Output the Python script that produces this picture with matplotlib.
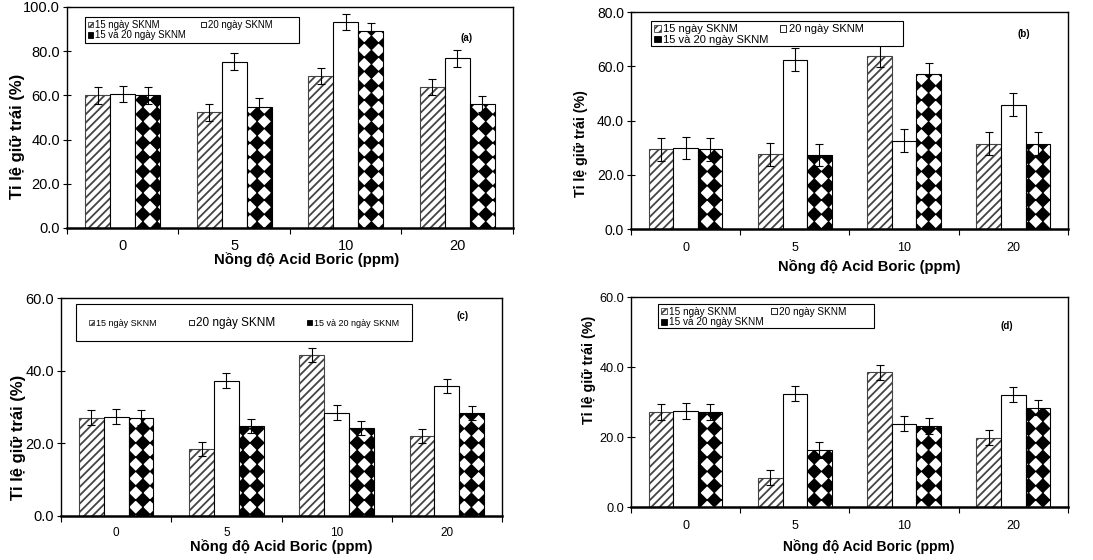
import warnings
import numpy as np
import matplotlib
matplotlib.use('Agg')
import matplotlib.pyplot as plt
from matplotlib import hatch as mhatch
from matplotlib.path import Path
from matplotlib.patches import Patch, Rectangle

warnings.filterwarnings('ignore')

doses = ['0', '5', '10', '20']
series = ['15 ngày SKNM', '20 ngày SKNM', '15 và 20 ngày SKNM']

a_15 = [60.0, 52.3, 68.7, 63.7]
a_20 = [60.5, 75.3, 93.2, 76.7]
a_both = [60.0, 54.9, 89.0, 56.1]
a_err = [3.7, 3.7, 3.7, 3.7]

b_15 = [29.4, 27.6, 63.9, 31.5]
b_20 = [29.9, 62.4, 32.6, 45.9]
b_both = [29.4, 27.3, 57.1, 31.4]
b_err = [4.2, 4.2, 4.2, 4.2]

c_15 = [27.1, 18.4, 44.4, 22.0]
c_20 = [27.4, 37.3, 28.5, 35.8]
c_both = [27.1, 24.8, 24.2, 28.3]
c_err = [2.0, 2.0, 2.0, 2.0]

d_15 = [27.1, 8.4, 38.5, 19.8]
d_20 = [27.4, 32.4, 23.8, 32.1]
d_both = [27.1, 16.3, 23.2, 28.4]
d_err = [2.2, 2.2, 2.2, 2.2]


class DiamondHatch(mhatch.HatchPatternBase):
    # square grid of filled black diamonds ('D')
    def __init__(self, hatch, density):
        self.num_rows = hatch.count('D') * (density + 1)
        self.num_vertices = 5 * (self.num_rows + 1) ** 2 if self.num_rows else 0

    def set_vertices_and_codes(self, vertices, codes):
        step = 1.0 / self.num_rows
        r = 0.45 * step
        diamond = np.array([[0, r], [-r, 0], [0, -r], [r, 0], [0, r]])
        centres = np.arange(self.num_rows + 1) * step
        i = 0
        for cy in centres:
            for cx in centres:
                vertices[i:i + 5] = diamond + [cx, cy]
                codes[i:i + 5] = [Path.MOVETO, Path.LINETO, Path.LINETO,
                                  Path.LINETO, Path.CLOSEPOLY]
                i += 5


mhatch._hatch_types.append(DiamondHatch)

plt.rcParams['font.family'] = ['Liberation Sans', 'DejaVu Sans']
plt.rcParams['hatch.linewidth'] = 1.3

STRIPE = '#444444'


def drawPanel(ax, v15, v20, vboth, err, ymax, tag, tagPos, ytickSize, xtickSize,
              labelSize, xlabPos, ylabPos, ylabSize, legBox, legCols, legSize,
              colGap, xpad):
    x = np.arange(len(doses))
    w = 0.225
    ekw = dict(ecolor='black', elinewidth=0.8, capsize=3, capthick=0.8)
    ax.bar(x - w, v15, w, color='white', edgecolor=STRIPE, hatch='////',
           linewidth=0.8, yerr=err, error_kw=ekw, zorder=2)
    ax.bar(x, v20, w, color='white', edgecolor='black',
           linewidth=0.8, yerr=err, error_kw=ekw, zorder=2)
    ax.bar(x + w, vboth, w, color='white', edgecolor='black', hatch='D',
           linewidth=0.8, yerr=err, error_kw=ekw, zorder=2)

    ax.set_xlim(-0.5, 3.5)
    ax.set_ylim(0, ymax)
    ax.set_yticks(np.arange(0, ymax + 1, 20))
    ax.set_yticklabels(['%.1f' % t for t in np.arange(0, ymax + 1, 20)])
    ax.set_xticks(x)
    ax.set_xticklabels(doses)
    ax.set_xticks(np.arange(-0.5, 4, 1), minor=True)
    ax.tick_params(axis='x', which='major', length=0, labelsize=xtickSize, pad=xpad)
    ax.tick_params(axis='x', which='minor', direction='out', length=4, width=0.8)
    ax.tick_params(axis='y', direction='inout', length=6, width=0.8,
                   labelsize=ytickSize, pad=2)
    for s in ax.spines.values():
        s.set_linewidth(1.0)
    ax.spines['bottom'].set_linewidth(1.8)

    ax.set_xlabel('Nồng độ Acid Boric (ppm)', fontsize=labelSize, fontweight='bold')
    ax.xaxis.label.set_va('center')
    ax.xaxis.set_label_coords(*xlabPos)
    ax.set_ylabel('Tỉ lệ giữ trái (%)', fontsize=ylabSize, fontweight='bold')
    ax.yaxis.label.set_va('center')
    ax.yaxis.set_label_coords(*ylabPos)

    ax.text(tagPos[0], tagPos[1], tag, transform=ax.transAxes, fontsize=7,
            fontweight='bold', ha='center', va='center')

    h15 = Patch(facecolor='white', edgecolor=STRIPE, hatch='////', linewidth=0.6)
    h20 = Patch(facecolor='white', edgecolor='black', linewidth=0.6)
    hboth = Patch(facecolor='black', edgecolor='black', linewidth=0.6)
    if legCols == 2:
        # box drawn separately, wider than the two columns of entries
        ax.add_patch(Rectangle(legBox[:2], legBox[2], legBox[3], transform=ax.transAxes,
                               facecolor='white', edgecolor='black', linewidth=0.8,
                               zorder=4, clip_on=False))
        # two columns filled row by row: 15 | 20 on top, 15 & 20 below
        ax.legend([h15, hboth, h20], [series[0], series[2], series[1]],
                  ncol=2, loc='upper left',
                  bbox_to_anchor=(legBox[0], legBox[1] + legBox[3]), borderaxespad=0,
                  fontsize=legSize, handlelength=0.55, handleheight=0.55,
                  handletextpad=0.2, borderpad=0.3, labelspacing=0.05,
                  columnspacing=colGap, frameon=False)
    else:
        leg = ax.legend([h15, h20, hboth], series, ncol=3, loc='center',
                        bbox_to_anchor=legBox, borderaxespad=0,
                        fontsize=legSize, handlelength=0.55, handleheight=0.55,
                        handletextpad=0.2, borderpad=1.4, columnspacing=colGap,
                        fancybox=False, edgecolor='black', framealpha=1)
        leg.get_texts()[1].set_fontsize(legSize + 2)
        leg.get_frame().set_linewidth(0.8)


fig = plt.figure(figsize=(10.93, 5.6), dpi=100)

axA = fig.add_axes([0.0613, 0.5929, 0.408, 0.3946])
drawPanel(axA, a_15, a_20, a_both, a_err, 100, '(a)', (0.895, 0.86), 10.5, 10.5, 10.8,
          (0.538, -0.145), (-0.11, 0.416), 12, (0.040, 0.837, 0.48, 0.118), 2, 6.9,
          1.6, 8)

axB = fig.add_axes([0.5773, 0.591, 0.3998, 0.3875])
drawPanel(axB, b_15, b_20, b_both, b_err, 80, '(b)', (0.90, 0.90), 10, 9, 10.6,
          (0.545, -0.175), (-0.114, 0.392), 10.2, (0.046, 0.843, 0.577, 0.116), 2, 8,
          1.1, 9)

axC = fig.add_axes([0.0558, 0.0786, 0.4035, 0.389])
drawPanel(axC, c_15, c_20, c_both, c_err, 60, '(c)', (0.91, 0.92), 10.5, 8.5, 10.6,
          (0.499, -0.142), (-0.097, 0.362), 12, (0.415, 0.888), 3, 6.5,
          3.6, 8)

axD = fig.add_axes([0.5773, 0.0946, 0.3998, 0.375])
drawPanel(axD, d_15, d_20, d_both, d_err, 60, '(d)', (0.86, 0.86), 9.2, 9, 10,
          (0.543, -0.19), (-0.096, 0.652), 10.3, (0.062, 0.852, 0.494, 0.115), 2, 7.2,
          0.8, 9)

fig.savefig('out.png', dpi=100)
